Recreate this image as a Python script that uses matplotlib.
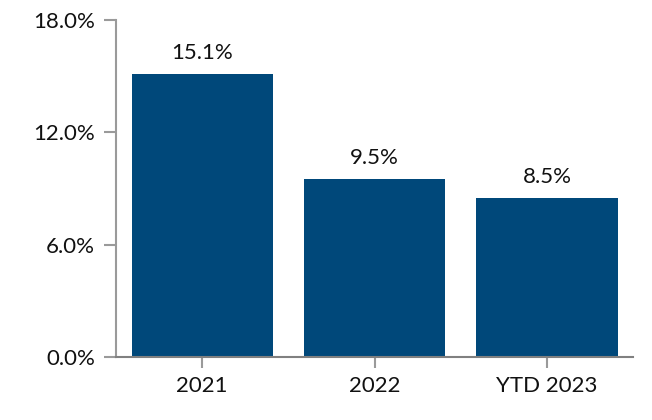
import numpy as np
import matplotlib
matplotlib.use("Agg")
import matplotlib.pyplot as plt

# ── Data ─────────────────────────────────────────────────────────────────────

categories = ["2021", "2022", "YTD 2023"]
values = [15.1, 9.5, 8.5]
y_ticks = [0, 6, 12, 18]

BAR_COLOR = "#00487a"
AXIS_COLOR = "#9a9a9a"

plt.rcParams["font.family"] = ["Lato", "DejaVu Sans"]

fig = plt.figure(figsize=(6.52, 4.2), dpi=100)
ax = fig.add_axes([0.178, 0.15, 0.793, 0.802])

x = np.arange(len(categories))
bars = ax.bar(x, values, width=0.82, color=BAR_COLOR, zorder=2)

for xi, v in zip(x, values):
    ax.annotate(f"{v:.1f}%", (xi, v), xytext=(0, 8), textcoords="offset points",
                ha="center", va="bottom", fontsize=16, color="#111111")

ax.set_xlim(-0.5, 2.5)
ax.set_ylim(0, 18)
ax.set_yticks(y_ticks)
ax.set_yticklabels([f"{t:.1f}%" for t in y_ticks])
ax.set_xticks(x)
ax.set_xticklabels(categories)

for side in ("top", "right"):
    ax.spines[side].set_visible(False)
for side in ("left", "bottom"):
    ax.spines[side].set_color(AXIS_COLOR)
    ax.spines[side].set_linewidth(1.5)
ax.spines["bottom"].set_color("#808080")

ax.tick_params(axis="y", length=9, width=1.5, color=AXIS_COLOR, labelsize=16,
               labelcolor="#111111", pad=6)
ax.tick_params(axis="x", length=8, width=1.5, color=AXIS_COLOR, labelsize=16,
               labelcolor="#111111", pad=6)

fig.savefig("out.png", dpi=100)
